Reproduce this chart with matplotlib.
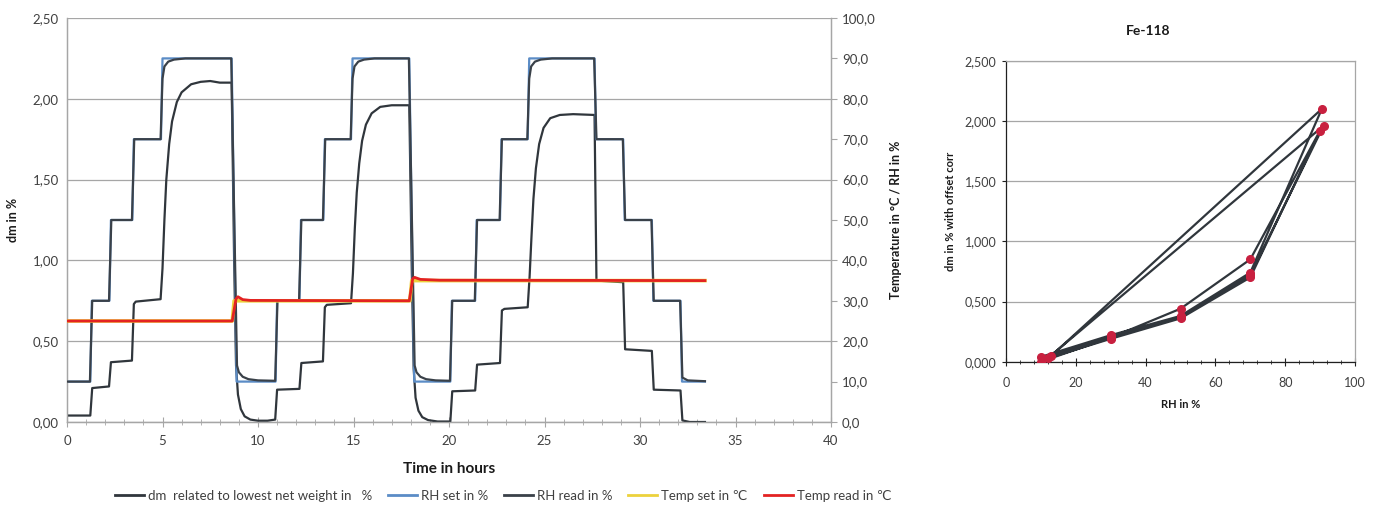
import matplotlib
matplotlib.use("Agg")
import matplotlib.pyplot as plt
from matplotlib.ticker import MultipleLocator, FuncFormatter
from matplotlib.lines import Line2D

plt.rcParams['font.family'] = ['Lato', 'DejaVu Sans']

# ---------------- data ----------------
dm_t = [0, 1.22, 1.32, 2.2, 2.3, 3.4, 3.5, 3.6, 4.9, 5.0, 5.1, 5.2, 5.35, 5.5, 5.75, 6.0, 6.5, 7.0, 7.5, 8.0, 8.62,
        8.75, 8.85, 8.95, 9.1, 9.3, 9.6, 10.0, 10.5, 10.9,
        11.0, 12.17, 12.27, 13.4, 13.5, 13.6, 14.87, 14.97, 15.07, 15.17, 15.3, 15.45, 15.65, 15.95, 16.4, 17.0, 17.92,
        18.05, 18.15, 18.25, 18.4, 18.6, 18.9, 19.4, 20.07,
        20.17, 21.37, 21.47, 22.67, 22.77, 22.9, 24.12, 24.22, 24.32, 24.42, 24.55, 24.72, 24.95, 25.3, 25.8, 26.5, 27.62,
        27.72, 29.12, 29.22, 30.62, 30.72, 32.12, 32.22, 32.6, 33.4]
dm_v = [0.04, 0.04, 0.21, 0.22, 0.37, 0.38, 0.73, 0.745, 0.76, 0.95, 1.25, 1.5, 1.72, 1.86, 1.98, 2.04, 2.09, 2.105, 2.11, 2.10, 2.10,
        1.0, 0.35, 0.17, 0.08, 0.035, 0.015, 0.008, 0.008, 0.015,
        0.20, 0.205, 0.365, 0.375, 0.71, 0.725, 0.735, 0.92, 1.2, 1.42, 1.6, 1.74, 1.84, 1.91, 1.95, 1.96, 1.96,
        0.95, 0.33, 0.15, 0.07, 0.03, 0.012, 0.003, 0.003,
        0.19, 0.195, 0.355, 0.365, 0.69, 0.70, 0.71, 0.9, 1.15, 1.38, 1.57, 1.72, 1.82, 1.88, 1.90, 1.905, 1.90,
        0.875, 0.865, 0.45, 0.44, 0.20, 0.195, 0.01, 0.0, 0.0]

rhset_t = [0, 1.22, 1.3, 2.22, 2.3, 3.42, 3.5, 4.92, 5.0, 8.62, 8.88, 10.92, 11.0, 12.17, 12.25, 13.42, 13.5, 14.87,
           14.95, 17.92, 18.18, 20.07, 20.15, 21.37, 21.45, 22.67, 22.75, 24.12, 24.2, 27.62, 27.7, 29.12, 29.2,
           30.62, 30.7, 32.12, 32.2, 33.4]
rhset_v = [10, 10, 30, 30, 50, 50, 70, 70, 90, 90, 10, 10, 30, 30, 50, 50, 70, 70,
           90, 90, 10, 10, 30, 30, 50, 50, 70, 70, 90, 90, 70, 70, 50,
           50, 30, 30, 10, 10]

rhread_t = [0, 1.2, 1.32, 2.2, 2.32, 3.4, 3.52, 4.9, 5.0, 5.1, 5.3, 5.6, 6.2, 8.6, 8.9, 9.0, 9.2, 9.5, 10.0, 10.9,
            11.02, 12.15, 12.27, 13.4, 13.52, 14.85, 14.95, 15.05, 15.25, 15.55, 16.1, 17.9, 18.2, 18.3, 18.5, 18.8, 19.3, 20.05,
            20.17, 21.35, 21.47, 22.65, 22.77, 24.1, 24.2, 24.3, 24.5, 24.8, 25.4, 27.6, 27.72, 29.1, 29.22, 30.6,
            30.72, 32.1, 32.22, 32.5, 33.4]
rhread_v = [10, 10, 30, 30, 50, 50, 70, 70, 85, 88, 89.2, 89.7, 90, 90, 14, 12.3, 11.2, 10.6, 10.3, 10.2,
            30, 30, 50, 50, 70, 70, 85, 88, 89.2, 89.7, 90, 90, 14, 12.3, 11.2, 10.6, 10.3, 10.2,
            30, 30, 50, 50, 70, 70, 85, 88, 89.2, 89.7, 90, 90, 70, 70, 50, 50,
            30, 30, 11, 10.3, 10.1]

tset_t = [0, 8.65, 8.75, 17.95, 18.05, 33.4]
tset_v = [25, 25, 30, 30, 35, 35]

tread_t = [0, 8.65, 8.85, 8.95, 9.2, 9.6, 17.92, 18.1, 18.2, 18.5, 19.5, 33.4]
tread_v = [25, 25, 30.5, 31, 30.3, 30.1, 30, 35.5, 35.8, 35.3, 35.1, 35.0]

iso_rh = [10, 30, 50, 70, 90.5, 13, 30, 50, 70, 91, 12, 30, 50, 70, 90, 70, 50, 30, 10]
iso_dm = [0.04, 0.22, 0.38, 0.74, 2.10, 0.05, 0.21, 0.37, 0.72, 1.96, 0.03, 0.19, 0.36, 0.70, 1.92, 0.85, 0.44, 0.20, 0.0]

legend_labels = ["dm  related to lowest net weight in   %", "RH set in %", "RH read in %",
                 "Temp set in \u2103", "Temp read in \u2103"]

# ---------------- styles ----------------
c_dark = "#30363c"
c_blue = "#5b8cc6"
c_rhread = "#3a4149"
c_yellow = "#ecd23c"
c_red = "#e32222"
c_grid = "#a6a6a6"
c_text = "#404040"

W, H = 1383, 509
fig = plt.figure(figsize=(W / 100, H / 100), dpi=100)

# ---------------- left chart ----------------
ax = fig.add_axes([67 / W, 1 - 422 / H, (831 - 67) / W, (422 - 18) / H])
ax2 = ax.twinx()

ax.set_xlim(0, 40)
ax.set_ylim(0, 2.5)
ax2.set_ylim(0, 100)
ax.yaxis.set_major_locator(MultipleLocator(0.5))
ax.xaxis.set_major_locator(MultipleLocator(5))
ax.xaxis.set_minor_locator(MultipleLocator(1))
ax2.yaxis.set_major_locator(MultipleLocator(10))
ax.yaxis.set_major_formatter(FuncFormatter(lambda v, p: f"{v:.2f}".replace(".", ",")))
ax2.yaxis.set_major_formatter(FuncFormatter(lambda v, p: f"{v:.1f}".replace(".", ",")))
ax.grid(axis='y', color=c_grid, lw=0.9)
ax.set_axisbelow(True)

for a in (ax, ax2):
    for s in a.spines.values():
        s.set_color(c_grid)
        s.set_linewidth(0.9)
    a.spines['top'].set_visible(False)

ax.tick_params(axis='x', which='major', direction='inout', length=7, color=c_grid, labelsize=9.5, labelcolor=c_text, pad=6)
ax.tick_params(axis='x', which='minor', direction='inout', length=4, color=c_grid)
ax.tick_params(axis='y', length=0, labelsize=9.5, labelcolor=c_text, pad=6)
ax2.tick_params(axis='y', direction='out', length=4, color=c_grid, labelsize=9.5, labelcolor=c_text, pad=4)

l_dm, = ax.plot(dm_t, dm_v, color=c_dark, lw=1.6, zorder=3)
l_rs, = ax2.plot(rhset_t, rhset_v, color=c_blue, lw=1.6, zorder=2)
l_rr, = ax2.plot(rhread_t, rhread_v, color=c_rhread, lw=1.6, zorder=3)
l_ts, = ax2.plot(tset_t, tset_v, color=c_yellow, lw=2.6, zorder=4)
l_tr, = ax2.plot(tread_t, tread_v, color=c_red, lw=2.0, zorder=5)

ax.set_xlabel("Time in hours", fontsize=11, fontweight='bold', color='#1a1a1a', labelpad=11)
ax.set_ylabel("dm in %", fontsize=9, fontweight='bold', color='#1a1a1a', labelpad=10)
ax2.set_ylabel("Temperature in \u00b0C / RH in %", fontsize=9, fontweight='bold', color='#1a1a1a', labelpad=10)

handles = [Line2D([], [], color=c_dark, lw=2), Line2D([], [], color=c_blue, lw=2),
           Line2D([], [], color=c_rhread, lw=2), Line2D([], [], color=c_yellow, lw=2),
           Line2D([], [], color=c_red, lw=2)]
fig.legend(handles, legend_labels, loc='center', bbox_to_anchor=(503 / W, 1 - 496 / H), ncol=5,
           frameon=False, fontsize=9.5, handlelength=2.2, handletextpad=0.3, columnspacing=1.2,
           labelcolor=c_text)

# ---------------- right chart ----------------
bx = fig.add_axes([1006 / W, 1 - 361.7 / H, (1355 - 1006) / W, (361.7 - 60.7) / H])
bx.set_xlim(0, 100)
bx.set_ylim(0, 2.5)
bx.xaxis.set_major_locator(MultipleLocator(20))
bx.xaxis.set_minor_locator(MultipleLocator(4))
bx.yaxis.set_major_locator(MultipleLocator(0.5))
bx.yaxis.set_major_formatter(FuncFormatter(lambda v, p: f"{v:.3f}".replace(".", ",")))
bx.grid(axis='y', color=c_grid, lw=0.9)
bx.set_axisbelow(True)
for k, s in bx.spines.items():
    s.set_color(c_grid)
    s.set_linewidth(0.9)
bx.spines['left'].set_color('#202020')
bx.spines['bottom'].set_color('#202020')
bx.tick_params(axis='x', which='major', direction='inout', length=6, color='#202020', labelsize=9, labelcolor=c_text, pad=8)
bx.tick_params(axis='x', which='minor', direction='inout', length=3, color='#202020')
bx.tick_params(axis='y', direction='out', length=3, color='#202020', labelsize=9, labelcolor=c_text, pad=4)

bx.plot(iso_rh, iso_dm, color=c_dark, lw=1.6, zorder=3)
bx.plot(iso_rh, iso_dm, linestyle='none', marker='o', ms=5.5, color='#c8203f', zorder=4)
bx.set_xlabel("RH in %", fontsize=8, fontweight='bold', color='#1a1a1a', labelpad=7)
bx.set_ylabel("dm in % with offset corr", fontsize=8, fontweight='bold', color='#1a1a1a', labelpad=6)
fig.text(1148 / W, 1 - 31 / H, "Fe-118", ha='center', va='center', fontsize=10, fontweight='bold', color='#1a1a1a')

fig.savefig("out.png", dpi=100)
